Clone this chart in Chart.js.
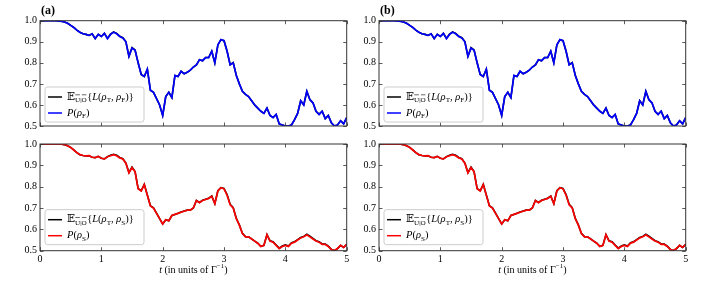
<!DOCTYPE html>
<html><head><meta charset="utf-8">
<script src="https://cdn.jsdelivr.net/npm/chart.js@4/dist/chart.umd.min.js"></script>
<style>
html,body{margin:0;padding:0;background:#fff}
body{width:709px;height:284px;position:relative;overflow:hidden}
canvas{position:absolute}
</style></head><body>
<canvas id="c1" width="354" height="135" style="left:0;top:0"></canvas>
<canvas id="c2" width="354" height="149" style="left:0;top:135px"></canvas>
<canvas id="c3" width="354" height="135" style="left:339px;top:0"></canvas>
<canvas id="c4" width="354" height="149" style="left:339px;top:135px"></canvas>
<script>
// ---- data ----
const times = [0.00,0.05,0.10,0.15,0.20,0.25,0.30,0.35,0.40,0.45,0.50,0.55,0.60,0.65,0.70,0.75,0.80,0.85,0.90,0.95,
1.00,1.05,1.10,1.15,1.20,1.25,1.30,1.35,1.40,1.45,1.50,1.55,1.60,1.65,1.70,1.75,1.80,1.85,1.90,1.95,
2.00,2.05,2.10,2.15,2.20,2.25,2.30,2.35,2.40,2.45,2.50,2.55,2.60,2.65,2.70,2.75,2.80,2.85,2.90,2.95,
3.00,3.05,3.10,3.15,3.20,3.25,3.30,3.35,3.40,3.45,3.50,3.55,3.60,3.65,3.70,3.75,3.80,3.85,3.90,3.95,
4.00,4.05,4.10,4.15,4.20,4.25,4.30,4.35,4.40,4.45,4.50,4.55,4.60,4.65,4.70,4.75,4.80,4.85,4.90,4.95,5.00];

// P(rho_F)
const fidelityF = [1.000,1.000,1.000,1.000,1.000,1.000,0.999,0.997,0.994,0.988,0.978,0.968,0.955,0.945,0.938,0.935,0.930,0.938,0.915,0.935,
0.925,0.940,0.915,0.935,0.945,0.938,0.925,0.918,0.900,0.830,0.870,0.860,0.800,0.745,0.735,0.770,0.670,0.660,0.630,0.600,
0.550,0.640,0.660,0.635,0.740,0.735,0.760,0.748,0.755,0.765,0.780,0.790,0.815,0.810,0.825,0.825,0.855,0.800,0.885,0.910,
0.905,0.855,0.790,0.800,0.740,0.700,0.665,0.650,0.640,0.620,0.600,0.585,0.570,0.560,0.585,0.550,0.540,0.555,0.510,0.505,
0.500,0.500,0.505,0.530,0.560,0.620,0.600,0.665,0.625,0.610,0.570,0.555,0.570,0.535,0.550,0.515,0.500,0.505,0.525,0.510,0.540];
// E_{U|O}{L(rho_T, rho_F)}
const boundF = [1.000,1.000,1.000,1.000,1.000,1.000,0.999,0.997,0.994,0.988,0.978,0.968,0.955,0.945,0.938,0.935,0.930,0.938,0.915,0.935,
0.925,0.940,0.916,0.936,0.947,0.940,0.926,0.919,0.901,0.831,0.872,0.861,0.800,0.745,0.735,0.770,0.670,0.660,0.630,0.600,
0.550,0.640,0.660,0.635,0.740,0.735,0.760,0.748,0.755,0.765,0.780,0.790,0.815,0.810,0.825,0.825,0.855,0.800,0.885,0.910,
0.905,0.855,0.791,0.801,0.741,0.700,0.665,0.650,0.640,0.620,0.600,0.585,0.570,0.560,0.585,0.550,0.540,0.555,0.510,0.505,
0.500,0.500,0.505,0.530,0.560,0.620,0.600,0.665,0.625,0.610,0.570,0.555,0.570,0.535,0.550,0.515,0.500,0.505,0.525,0.510,0.540];

// P(rho_S)
const fidelityS = [1.000,1.000,1.000,1.000,1.000,1.000,1.000,0.999,0.997,0.992,0.984,0.972,0.960,0.950,0.946,0.944,0.945,0.938,0.936,0.942,
0.933,0.930,0.940,0.945,0.950,0.945,0.935,0.930,0.910,0.865,0.890,0.870,0.790,0.780,0.810,0.760,0.710,0.700,0.675,0.650,
0.625,0.645,0.640,0.665,0.670,0.675,0.680,0.685,0.690,0.690,0.700,0.735,0.725,0.735,0.740,0.745,0.755,0.720,0.780,0.795,
0.790,0.760,0.715,0.700,0.650,0.620,0.580,0.565,0.565,0.555,0.545,0.535,0.520,0.525,0.575,0.545,0.540,0.525,0.510,0.520,
0.525,0.520,0.535,0.540,0.550,0.560,0.565,0.575,0.565,0.555,0.545,0.540,0.530,0.530,0.520,0.505,0.500,0.510,0.525,0.515,0.530];
// E_{U|O}{L(rho_T, rho_S)}
const boundS = [1.000,1.000,1.000,1.000,1.000,1.000,1.000,0.999,0.997,0.992,0.984,0.972,0.960,0.950,0.946,0.944,0.945,0.938,0.936,0.942,
0.933,0.930,0.941,0.947,0.952,0.947,0.937,0.931,0.911,0.866,0.892,0.871,0.791,0.781,0.811,0.761,0.711,0.701,0.676,0.650,
0.625,0.645,0.640,0.665,0.670,0.675,0.681,0.686,0.690,0.690,0.700,0.735,0.726,0.736,0.741,0.746,0.756,0.721,0.781,0.796,
0.792,0.763,0.718,0.702,0.652,0.621,0.581,0.566,0.565,0.555,0.545,0.535,0.520,0.525,0.575,0.546,0.542,0.527,0.512,0.522,
0.527,0.522,0.537,0.542,0.552,0.562,0.567,0.577,0.568,0.558,0.547,0.542,0.532,0.531,0.521,0.506,0.500,0.510,0.525,0.515,0.530];

const xTicks = [0,1,2,3,4,5];
const yTicks = [0.5,0.6,0.7,0.8,0.9,1.0];

// ---- drawing helpers ----
const SERIF = '"Liberation Serif","DejaVu Serif",serif';
function pts(ys){ return times.map((t,i)=>({x:t,y:ys[i]})); }

function drawRich(ctx, x, y, parts, size){
  let cx = x;
  for (const p of parts){
    const s = p.sub ? size*0.68 : size;
    ctx.font = (p.it ? 'italic ' : '') + s + 'px ' + SERIF;
    const dy = p.sub ? size*0.28 : 0;
    ctx.fillText(p.t, cx, y + dy);
    const w = ctx.measureText(p.t).width;
    if (p.over){
      ctx.save(); ctx.lineWidth = 0.6; ctx.strokeStyle = '#000';
      ctx.beginPath(); ctx.moveTo(cx+0.3, y+dy-s*0.72); ctx.lineTo(cx+w-0.3, y+dy-s*0.72); ctx.stroke();
      ctx.restore();
    }
    cx += w + (p.gap||0);
  }
  return cx - x;
}

const panelPlugin = {
  id: 'panelDecor',
  afterDatasetsDraw(chart, args, o){
    const ctx = chart.ctx, a = chart.chartArea;
    const xs = chart.scales.x, ys = chart.scales.y;
    ctx.save();
    // inward ticks on all four sides
    ctx.strokeStyle = '#333'; ctx.lineWidth = 0.8;
    const L = 3.5;
    ctx.beginPath();
    xTicks.forEach(v=>{
      const px = Math.round(xs.getPixelForValue(v))+0.5;
      ctx.moveTo(px, a.bottom); ctx.lineTo(px, a.bottom - L);
      ctx.moveTo(px, a.top); ctx.lineTo(px, a.top + L);
    });
    yTicks.forEach(v=>{
      const py = Math.round(ys.getPixelForValue(v))+0.5;
      ctx.moveTo(a.left, py); ctx.lineTo(a.left + L, py);
      ctx.moveTo(a.right, py); ctx.lineTo(a.right - L, py);
    });
    ctx.stroke();
    // frame
    ctx.strokeStyle = '#333'; ctx.lineWidth = 1;
    ctx.strokeRect(a.left, a.top, a.right - a.left, a.bottom - a.top);

    // legend
    const bx = a.left + 5, bw = 99, bh = 35, by = a.bottom - bh - o.legendGap;
    ctx.fillStyle = 'rgba(255,255,255,0.85)';
    ctx.strokeStyle = '#cccccc'; ctx.lineWidth = 1;
    const r = 2.5;
    ctx.beginPath();
    ctx.moveTo(bx+r, by); ctx.lineTo(bx+bw-r, by); ctx.quadraticCurveTo(bx+bw, by, bx+bw, by+r);
    ctx.lineTo(bx+bw, by+bh-r); ctx.quadraticCurveTo(bx+bw, by+bh, bx+bw-r, by+bh);
    ctx.lineTo(bx+r, by+bh); ctx.quadraticCurveTo(bx, by+bh, bx, by+bh-r);
    ctx.lineTo(bx, by+r); ctx.quadraticCurveTo(bx, by, bx+r, by);
    ctx.closePath(); ctx.fill(); ctx.stroke();

    const ds = chart.data.datasets;
    const rows = [
      {color: ds[1].borderColor, y: by + 10,
       parts: [{t:'𝔼'},{t:'U',sub:true,over:true},{t:'|',sub:true},{t:'O',sub:true,over:true,gap:0.5},
               {t:'{'},{t:'L',it:true},{t:'('},{t:'ρ',it:true},{t:'T',sub:true},{t:', '},{t:'ρ',it:true},{t:o.sub,sub:true},{t:')}'}]},
      {color: ds[0].borderColor, y: by + 26,
       parts: [{t:'P',it:true},{t:'('},{t:'ρ',it:true},{t:o.sub,sub:true},{t:')'}]}
    ];
    rows.forEach(rw=>{
      ctx.strokeStyle = rw.color; ctx.lineWidth = 1.5;
      ctx.beginPath(); ctx.moveTo(bx+3, rw.y); ctx.lineTo(bx+17, rw.y); ctx.stroke();
      ctx.fillStyle = '#000'; ctx.textBaseline = 'middle'; ctx.textAlign = 'left';
      drawRich(ctx, bx+22, rw.y, rw.parts, 10.5);
    });

    // panel label
    if (o.label){
      ctx.fillStyle = '#000'; ctx.textBaseline = 'alphabetic'; ctx.textAlign = 'left';
      ctx.font = 'bold 12px ' + SERIF;
      ctx.fillText(o.label, a.left + 1, 14);
    }
    // x axis title
    if (o.xTitle){
      ctx.fillStyle = '#000'; ctx.textBaseline = 'middle'; ctx.textAlign = 'left';
      const parts = [{t:'t',it:true},{t:' (in units of Γ'},{t:'−1',sup:true},{t:')'}];
      let w = 0;
      parts.forEach(p=>{ ctx.font = (p.it?'italic ':'') + (p.sup?7:10) + 'px ' + SERIF; w += ctx.measureText(p.t).width; });
      let cx = (a.left + a.right)/2 - w/2;
      const ty = 135;
      parts.forEach(p=>{
        ctx.font = (p.it?'italic ':'') + (p.sup?7:10) + 'px ' + SERIF;
        ctx.fillText(p.t, cx, ty - (p.sup?3.5:0));
        cx += ctx.measureText(p.t).width;
      });
    }
    ctx.restore();
  }
};

function makeChart(id, colored, black, color, sub, bottom, label){
  const top = bottom ? 6.7 : 20.7;
  const xH = bottom ? 33.3 : 6.7;
  return new Chart(document.getElementById(id), {
    type: 'line',
    data: { datasets: [
      { data: pts(colored), borderColor: color, borderWidth: 1.7, pointRadius: 0, tension: 0, fill: false },
      { data: pts(black), borderColor: '#000000', borderWidth: 1.6, pointRadius: 0, tension: 0, fill: false }
    ]},
    options: {
      responsive: false, animation: false, devicePixelRatio: 1,
      layout: { padding: { top: top, right: 7.3, left: 0, bottom: 0 } },
      plugins: { legend: { display: false }, tooltip: { enabled: false },
        panelDecor: { label: label, sub: sub, xTitle: bottom, legendGap: bottom ? 6 : 4 } },
      scales: {
        x: { type: 'linear', min: 0, max: 5,
             afterBuildTicks: s => { s.ticks = xTicks.map(v=>({value:v})); },
             afterFit: s => { s.height = xH; },
             grid: { display: false, drawTicks: false }, border: { display: false },
             ticks: { display: bottom, padding: 3, color: '#000', font: { family: SERIF, size: 10 },
                      maxRotation: 0, autoSkip: false } },
        y: { min: 0.5, max: 1.0,
             afterBuildTicks: s => { s.ticks = yTicks.map(v=>({value:v})); },
             afterFit: s => { s.width = 40; },
             grid: { display: false, drawTicks: false }, border: { display: false },
             ticks: { padding: 3, color: '#000', font: { family: SERIF, size: 10 },
                      callback: v => Number(v).toFixed(1) } }
      }
    },
    plugins: [panelPlugin]
  });
}

makeChart('c1', fidelityF, boundF, '#0000ff', 'F', false, '(a)');
makeChart('c2', fidelityS, boundS, '#ff0000', 'S', true, null);
makeChart('c3', fidelityF, boundF, '#0000ff', 'F', false, '(b)');
makeChart('c4', fidelityS, boundS, '#ff0000', 'S', true, null);
</script>
</body></html>
